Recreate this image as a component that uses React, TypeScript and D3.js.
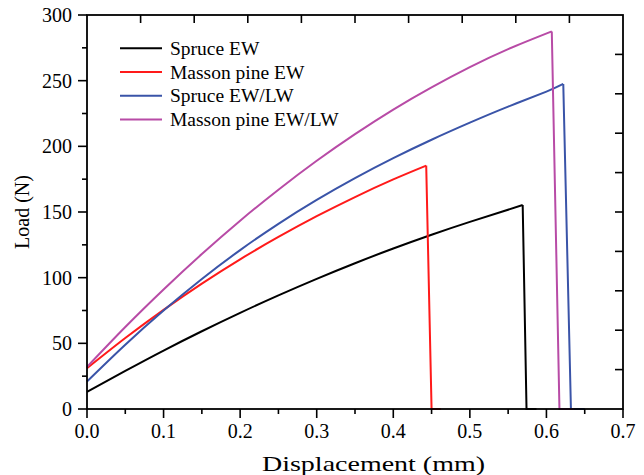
import React from "react";
import * as d3 from "d3";

const W = 644;
const H = 475;
const M = { left: 87, right: 623, top: 15, bottom: 409 };

const seriesNames = ["Spruce EW", "Masson pine EW", "Spruce EW/LW", "Masson pine EW/LW"];
const seriesColors = ["#000000", "#ff1a1a", "#3a54a8", "#b84ba6"];

// Loading branch (displacement mm, load N)
const spruceEwDisp = [0, 0.05, 0.1, 0.15, 0.2, 0.25, 0.3, 0.35, 0.4, 0.45, 0.5, 0.569];
const spruceEwLoad = [13, 29, 44.5, 59.2, 73.2, 86.5, 99.1, 111, 122.2, 132.7, 142.5, 155.3];
const massonEwDisp = [0, 0.05, 0.1, 0.15, 0.2, 0.25, 0.3, 0.35, 0.4, 0.443];
const massonEwLoad = [31, 54, 75.5, 95.5, 114, 131, 146.8, 161.4, 174.8, 185.3];
const spruceEwLwDisp = [0, 0.05, 0.1, 0.15, 0.2, 0.25, 0.3, 0.35, 0.4, 0.45, 0.5, 0.55, 0.6, 0.622];
const spruceEwLwLoad = [21, 49, 75, 99, 121, 141, 159.2, 175.8, 191, 205, 218, 230.2, 241.7, 247.5];
const massonEwLwDisp = [0, 0.05, 0.1, 0.15, 0.2, 0.25, 0.3, 0.35, 0.4, 0.45, 0.5, 0.55, 0.607];
const massonEwLwLoad = [32, 62.4, 91, 118, 143.4, 167, 189, 209.3, 228, 244.9, 260.3, 274, 287.5];

// Failure branch: sudden drop after the peak load
const spruceEwDropDisp = [0.569, 0.574, 0.587];
const spruceEwDropLoad = [155.3, 0, 0];
const massonEwDropDisp = [0.443, 0.45, 0.462];
const massonEwDropLoad = [185.3, 0, 0];
const spruceEwLwDropDisp = [0.622, 0.632, 0.65];
const spruceEwLwDropLoad = [247.5, 0, 0];
const massonEwLwDropDisp = [0.607, 0.617, 0.636];
const massonEwLwDropLoad = [287.5, 0, 0];

const xTicks = [0, 0.1, 0.2, 0.3, 0.4, 0.5, 0.6, 0.7];
const yTicks = [0, 50, 100, 150, 200, 250, 300];

const loading = [
  [spruceEwDisp, spruceEwLoad],
  [massonEwDisp, massonEwLoad],
  [spruceEwLwDisp, spruceEwLwLoad],
  [massonEwLwDisp, massonEwLwLoad],
];
const failure = [
  [spruceEwDropDisp, spruceEwDropLoad],
  [massonEwDropDisp, massonEwDropLoad],
  [spruceEwLwDropDisp, spruceEwLwDropLoad],
  [massonEwLwDropDisp, massonEwLwDropLoad],
];

const FONT = "'Liberation Serif', 'Times New Roman', serif";

export default function App() {
  const x = d3.scaleLinear().domain([0, 0.7]).range([M.left, M.right]);
  const y = d3.scaleLinear().domain([0, 300]).range([M.bottom, M.top]);

  const zip = (xs: number[], ys: number[]) => xs.map((v, i) => [v, ys[i]] as [number, number]);
  const smooth = d3
    .line<[number, number]>()
    .x((d) => x(d[0]))
    .y((d) => y(d[1]))
    .curve(d3.curveNatural);
  const straight = d3
    .line<[number, number]>()
    .x((d) => x(d[0]))
    .y((d) => y(d[1]));

  const xMinor = d3.range(0.05, 0.7, 0.1);
  const yMinor = d3.range(25, 300, 50);
  const topTicks = d3.range(1, 10).map((k) => M.left + ((M.right - M.left) * k) / 10);
  const rightTicks = d3.range(1, 10).map((k) => M.bottom - ((M.bottom - M.top) * k) / 10);

  return (
    <svg
      width={W}
      height={H}
      style={{ position: "absolute", left: 0, top: 0, background: "#fff" }}
      fontFamily={FONT}
    >
      <rect x={0} y={0} width={W} height={H} fill="#fff" />

      {/* curves */}
      {loading.map(([xs, ys], i) => (
        <path
          key={"l" + i}
          d={smooth(zip(xs, ys)) || ""}
          fill="none"
          stroke={seriesColors[i]}
          strokeWidth={2}
          strokeLinejoin="round"
        />
      ))}
      {failure.map(([xs, ys], i) => (
        <path
          key={"f" + i}
          d={straight(zip(xs, ys)) || ""}
          fill="none"
          stroke={seriesColors[i]}
          strokeWidth={2}
          strokeLinejoin="miter"
        />
      ))}

      {/* frame */}
      <rect
        x={M.left}
        y={M.top}
        width={M.right - M.left}
        height={M.bottom - M.top}
        fill="none"
        stroke="#000"
        strokeWidth={1.8}
      />

      {/* bottom axis ticks */}
      {xTicks.map((t) => (
        <line key={"xt" + t} x1={x(t)} x2={x(t)} y1={M.bottom} y2={M.bottom + 9} stroke="#000" strokeWidth={1.6} />
      ))}
      {xMinor.map((t) => (
        <line key={"xm" + t} x1={x(t)} x2={x(t)} y1={M.bottom} y2={M.bottom + 5} stroke="#000" strokeWidth={1.6} />
      ))}
      {xTicks.map((t) => (
        <text key={"xl" + t} x={x(t)} y={438} fontSize={20} textAnchor="middle" fill="#000">
          {t.toFixed(1)}
        </text>
      ))}

      {/* left axis ticks */}
      {yTicks.map((t) => (
        <line key={"yt" + t} x1={M.left - 9} x2={M.left} y1={y(t)} y2={y(t)} stroke="#000" strokeWidth={1.6} />
      ))}
      {yMinor.map((t) => (
        <line key={"ym" + t} x1={M.left - 5} x2={M.left} y1={y(t)} y2={y(t)} stroke="#000" strokeWidth={1.6} />
      ))}
      {yTicks.map((t) => (
        <text key={"yl" + t} x={72} y={y(t) + 7} fontSize={20} textAnchor="end" fill="#000">
          {t}
        </text>
      ))}

      {/* top and right inner ticks */}
      {topTicks.map((px, k) => (
        <line key={"tt" + k} x1={px} x2={px} y1={M.top} y2={M.top + 8} stroke="#000" strokeWidth={1.6} />
      ))}
      {rightTicks.map((py, k) => (
        <line key={"rt" + k} x1={M.right - 8} x2={M.right} y1={py} y2={py} stroke="#000" strokeWidth={1.6} />
      ))}

      {/* axis titles */}
      <text x={262} y={471} fontSize={21} textLength={223} lengthAdjust="spacingAndGlyphs" fill="#000">
        Displacement (mm)
      </text>
      <text
        transform="translate(29,212) rotate(-90)"
        fontSize={20}
        textAnchor="middle"
        fill="#000"
      >
        Load (N)
      </text>

      {/* legend */}
      {seriesNames.map((name, i) => {
        const ly = 48.3 + i * 23.7;
        return (
          <g key={"lg" + i}>
            <line x1={120} x2={162} y1={ly} y2={ly} stroke={seriesColors[i]} strokeWidth={2} />
            <text x={170} y={ly + 6.5} fontSize={19.5} fill="#000">
              {name}
            </text>
          </g>
        );
      })}
    </svg>
  );
}
